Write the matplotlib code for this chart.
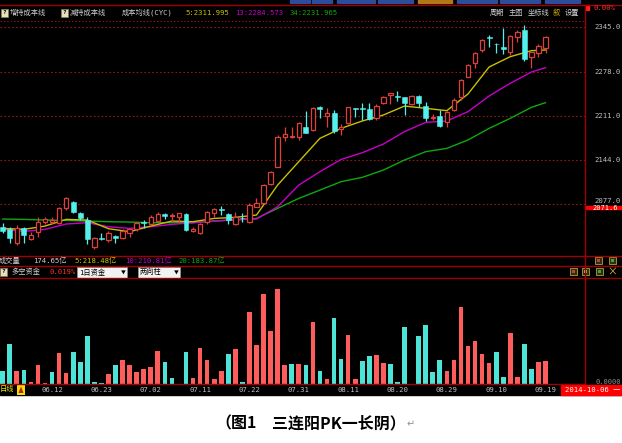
import matplotlib
matplotlib.use('Agg')
import matplotlib.pyplot as plt
from matplotlib.patches import Rectangle, Polygon
from matplotlib.transforms import blended_transform_factory as blend

# ---------------- data ----------------
opens = [2042.1, 2039.6, 2018.9, 2040.6, 2023.9, 2035.5, 2049.6, 2050.7, 2049.1, 2070.9,
         2080.4, 2064.3, 2053.2, 2012.8, 2026.4, 2022.9, 2029.5, 2025.4, 2033.0, 2039.1,
         2050.7, 2047.1, 2052.2, 2061.8, 2059.3, 2058.2, 2061.8, 2037.0, 2033.0, 2050.7,
         2064.3, 2069.9, 2062.3, 2047.1, 2056.2, 2050.7, 2073.4, 2079.4, 2107.7, 2134.0,
         2179.4, 2178.4, 2179.4, 2193.5, 2189.5, 2224.8, 2211.2, 2215.7, 2190.5, 2199.6,
         2222.3, 2223.3, 2220.8, 2207.2, 2229.9, 2242.0, 2241.0, 2238.9, 2228.9, 2240.9,
         2225.8, 2207.2, 2210.7, 2202.1, 2219.8, 2240.0, 2270.2, 2290.4, 2310.6, 2330.0,
         2320.2, 2315.7, 2308.1, 2329.8, 2340.9, 2299.5, 2305.6, 2313.1]
highs = [2048.1, 2043.1, 2045.6, 2043.1, 2035.5, 2058.2, 2057.2, 2057.2, 2073.4, 2088.5,
         2081.4, 2065.8, 2058.2, 2028.0, 2033.0, 2036.5, 2030.5, 2039.1, 2040.6, 2050.7,
         2053.2, 2060.8, 2065.8, 2064.3, 2064.3, 2064.3, 2063.3, 2043.1, 2049.1, 2067.3,
         2070.9, 2074.4, 2063.3, 2065.8, 2063.3, 2078.4, 2087.0, 2107.7, 2127.9, 2181.9,
         2193.5, 2193.5, 2202.1, 2218.8, 2223.8, 2225.8, 2222.3, 2219.8, 2198.5, 2224.8,
         2222.8, 2229.9, 2229.9, 2228.9, 2240.9, 2245.5, 2249.0, 2239.9, 2242.5, 2242.5,
         2232.4, 2213.7, 2219.8, 2218.8, 2237.4, 2266.2, 2289.4, 2308.1, 2327.2, 2333.3,
         2321.7, 2343.4, 2333.3, 2340.9, 2348.5, 2308.1, 2319.7, 2331.8]
lows = [2033.0, 2018.9, 2015.3, 2018.9, 2022.9, 2028.0, 2047.1, 2047.1, 2047.1, 2068.4,
        2064.3, 2053.2, 2016.8, 2008.8, 2022.9, 2020.4, 2018.9, 2023.9, 2027.0, 2037.0,
        2040.6, 2045.6, 2050.7, 2054.2, 2050.7, 2049.1, 2037.0, 2035.5, 2032.0, 2047.1,
        2058.2, 2060.8, 2047.1, 2045.6, 2050.7, 2049.1, 2072.4, 2078.4, 2106.2, 2132.9,
        2173.3, 2176.9, 2174.3, 2184.4, 2188.5, 2207.2, 2193.5, 2185.4, 2181.9, 2198.5,
        2209.7, 2204.6, 2204.6, 2204.6, 2228.9, 2228.9, 2233.9, 2212.2, 2227.3, 2223.8,
        2203.6, 2204.6, 2194.5, 2194.5, 2218.8, 2234.9, 2269.2, 2282.8, 2308.1, 2315.7,
        2305.6, 2304.5, 2303.0, 2323.2, 2294.5, 2282.8, 2299.5, 2305.6]
closes = [2037.0, 2025.4, 2040.6, 2030.5, 2030.5, 2050.7, 2054.2, 2053.2, 2070.9, 2086.0,
          2065.8, 2056.7, 2023.9, 2026.4, 2023.9, 2033.0, 2026.4, 2037.0, 2039.1, 2049.1,
          2049.1, 2058.2, 2062.3, 2059.3, 2060.8, 2063.3, 2038.1, 2039.1, 2047.1, 2065.8,
          2069.4, 2068.4, 2053.2, 2058.2, 2055.7, 2075.9, 2079.4, 2106.2, 2126.4, 2178.4,
          2182.9, 2180.4, 2200.6, 2185.5, 2222.3, 2220.8, 2215.7, 2188.5, 2194.5, 2223.8,
          2221.3, 2221.3, 2205.6, 2225.8, 2238.9, 2245.0, 2240.0, 2230.9, 2240.9, 2229.9,
          2207.2, 2209.7, 2195.5, 2217.2, 2234.9, 2265.2, 2287.9, 2306.6, 2325.7, 2329.3,
          2319.2, 2311.6, 2331.8, 2338.4, 2296.5, 2308.1, 2316.6, 2329.8]

ma_idx = [1, 4, 7, 10, 13, 16, 19, 22, 25, 28, 31, 34, 37, 40, 43, 46, 49, 52, 55, 58,
          61, 64, 67, 70, 73, 76, 78]
cyc5 = [2040.6, 2039.1, 2044.1, 2054.2, 2053.2, 2040.1, 2035.6, 2044.1, 2051.7, 2050.7,
        2055.7, 2057.3, 2060.8, 2106.2, 2141.6, 2176.9, 2192.0, 2203.1, 2212.2, 2225.8,
        2222.3, 2218.8, 2244.0, 2284.9, 2300.5, 2309.6, 2310.6]
cyc13 = [2039.1, 2036.1, 2039.1, 2047.2, 2049.2, 2043.1, 2040.6, 2043.1, 2046.7, 2049.2,
         2051.7, 2054.2, 2054.7, 2073.4, 2106.2, 2126.4, 2145.0, 2155.1, 2168.3, 2187.0,
         2201.1, 2203.1, 2217.3, 2241.0, 2260.2, 2277.3, 2283.9]
cyc34 = [2054.7, 2054.2, 2053.2, 2052.7, 2051.7, 2050.7, 2050.2, 2049.2, 2049.2, 2049.2,
         2051.7, 2053.2, 2055.7, 2070.9, 2086.0, 2098.6, 2111.3, 2117.8, 2128.9, 2144.1,
         2156.7, 2161.7, 2174.4, 2192.0, 2207.2, 2223.8, 2230.9]

flow = [13, 40, 13, 14, 2, 19, 1, 12, 31, 11, 32, 22, 48, 2, 1, 10, 19, 24, 19, 12, 15, 17,
        33, 22, 6, 0.5, 32, 6, 36, 24, 5, 13, 30, 35, 2, 72, 39, 90, 53, 95, 19, 20,
        20, 19, 62, 13, 5, 66, 25, 49, 5, 23, 28, 29, 21, 20, 2, 57, 0, 48, 59, 12, 24,
        13, 24, 77, 38, 43, 30, 21, 32, 7, 51, 7, 40, 15, 22, 23]
flow_dir = ("ccrcrrrcrrcccccrcrrrrr" "rccccrrrrrcrcrrrrrrc"
            "rcrcrccrrccrrcccccccc" "rrrrrrrccrrccrr")

date_idx = [8, 15, 22, 29, 36, 43, 50, 57, 64, 71, 78]
date_labels = ['06.12', '06.23', '07.02', '07.11', '07.22', '07.31',
               '08.11', '08.20', '08.29', '09.10', '09.19']
price_ticks = [2345.0, 2278.0, 2211.0, 2144.0, 2077.0]
marker_price = 2071.6

# ---------------- style ----------------
UP = '#dc403c'
DOWN = '#54f0ec'
BAR_UP = '#ff5c5c'
BAR_DN = '#4de3d6'
YEL, MAG, GRN = '#c8c000', '#c800c8', '#10a810'
DRED = '#a00000'
GRID = '#901818'
TXT = '#d0d0d0'
CJK = ['Noto Sans CJK SC', 'DejaVu Sans']
MONO = ['DejaVu Sans Mono', 'Noto Sans CJK SC']

W, H = 622, 443
fig = plt.figure(figsize=(W / 100, H / 100), dpi=100)
fig.patch.set_facecolor('white')


def px_axes(x0, y0, x1, y1, z):
    return fig.add_axes([x0 / W, 1 - y1 / H, (x1 - x0) / W, (y1 - y0) / H], zorder=z)


bg = px_axes(0, 0, W, H, 0)
bg.set_xlim(0, W); bg.set_ylim(H, 0); bg.axis('off')
bg.add_patch(Rectangle((0, 0), W, 395, color='black'))

X0, X1 = 0.617, 83.6
# price panel
pa = px_axes(0, 21, 585, 255, 2)
pa.set_facecolor('none'); pa.axis('off')
pa.set_xlim(X0, X1); pa.set_ylim(2000.3, 2354.5)
for p in price_ticks:
    pa.axhline(p, color=GRID, lw=0.8, ls=(0, (1.5, 2.0)), zorder=1)

idx = list(range(1, len(opens) + 1))
for i, o, h, l, c in zip(idx, opens, highs, lows, closes):
    if c >= o:
        pa.vlines(i, max(o, c), h, color=UP, lw=0.9, zorder=3)
        pa.vlines(i, l, min(o, c), color=UP, lw=0.9, zorder=3)
        pa.bar(i, max(c - o, 0.3), bottom=o, width=0.62, facecolor='black',
               edgecolor=UP, linewidth=0.9, zorder=4)
    else:
        pa.vlines(i, l, h, color=DOWN, lw=0.9, zorder=3)
        pa.bar(i, max(o - c, 0.6), bottom=c, width=0.7, facecolor=DOWN,
               edgecolor=DOWN, linewidth=0.4, zorder=4)

pa.plot(ma_idx, cyc34, color=GRN, lw=1.0, zorder=2)
pa.plot(ma_idx, cyc13, color=MAG, lw=1.0, zorder=2)
pa.plot(ma_idx, cyc5, color=YEL, lw=1.0, zorder=2)

# flow bars panel
ba = px_axes(0, 278, 585, 384, 2)
ba.set_facecolor('none'); ba.axis('off')
ba.set_xlim(X0, X1); ba.set_ylim(0, 106)
ba.bar(idx, flow, width=0.66,
       color=[BAR_UP if d == 'r' else BAR_DN for d in flow_dir], zorder=3)

# overlay for frame and texts (pixel coordinates)
ov = px_axes(0, 0, W, H, 5)
ov.set_facecolor('none'); ov.axis('off')
ov.set_xlim(0, W); ov.set_ylim(H, 0)

# top tab strip
for a, b, col in [(290, 310, '#2c4c9c'), (312, 332, '#2c4c9c'), (337, 375, '#2c4c9c'),
                  (378, 413, '#2c4c9c'), (418, 452, '#b07818'), (457, 497, '#2c4c9c'),
                  (500, 540, '#2c4c9c'), (545, 580, '#2c4c9c')]:
    ov.add_patch(Rectangle((a, 0), b - a, 3, color=col))
ov.plot([0, W], [4.5, 4.5], color=DRED, lw=1.0)
ov.plot([0, 585], [21, 21], color=GRID, lw=0.7, ls=(0, (1.5, 2.0)))
for y in (255.5, 265.5, 278):
    ov.plot([0, W], [y, y], color=DRED, lw=1.0)
ov.plot([0, 585], [384, 384], color=DRED, lw=1.0)
ov.plot([585, 585], [4.5, 384], color=DRED, lw=1.0)
ov.add_patch(Rectangle((586, 5), 3, 5, color='#ff2020'))
ov.text(593, 7.5, '0.00%', color='#ff3030', fontsize=5.2, family=MONO, va='center')


def qicon(x, y):
    ov.add_patch(Rectangle((x, y - 4), 7, 8, fc='#e8e0b8', ec='#808060', lw=0.5))
    ov.text(x + 3.5, y, '?', color='black', fontsize=4.5, ha='center', va='center',
            family=MONO, weight='bold')


# header row
hy = 12.5
qicon(1, hy)
ov.text(10, hy, '增持成本线', color=TXT, fontsize=5.2, family=CJK, va='center')
qicon(61, hy)
ov.text(70, hy, '减持成本线', color=TXT, fontsize=5.2, family=CJK, va='center')
ov.text(122, hy, '成本均线(CYC)', color=TXT, fontsize=5.2, family=MONO, va='center')
ov.text(185, hy, '5:2311.995', color=YEL, fontsize=5.2, family=MONO, va='center')
ov.text(235, hy, '13:2284.573', color=MAG, fontsize=5.2, family=MONO, va='center')
ov.text(290, hy, '34:2231.965', color=GRN, fontsize=5.2, family=MONO, va='center')
ov.text(490, hy, '周期', color=TXT, fontsize=5.2, family=CJK, va='center')
ov.text(509, hy, '主图', color=TXT, fontsize=5.2, family=CJK, va='center')
ov.text(528, hy, '坐标线', color=TXT, fontsize=5.2, family=CJK, va='center')
ov.text(553, hy, '叙', color='#c8b000', fontsize=5.2, family=CJK, va='center')
ov.text(565, hy, '设置', color=TXT, fontsize=5.2, family=CJK, va='center')

# price labels
ty = blend(ov.transData, pa.transData)
for p in price_ticks[:-1]:
    ov.text(594, p, f'{p:.1f}', transform=ty, color='#c0c0c0', fontsize=5.2,
            family=MONO, va='center')
ov.text(594, price_ticks[-1] + 0.8, f'{price_ticks[-1]:.1f}', transform=ty,
        color='#c0c0c0', fontsize=5.2, family=MONO, va='bottom')
ov.add_patch(Rectangle((585.5, marker_price - 2.0), 36.5, 4.6, transform=ty,
                       color='#ff0000', zorder=6))
ov.text(592, marker_price + 0.3, f'{marker_price:.1f}', transform=ty, color='white',
        fontsize=5.0, family=MONO, va='center', zorder=7)

# volume header row
vy = 260.5
ov.text(-1, vy, '成交量', color=TXT, fontsize=5.2, family=CJK, va='center')
ov.text(33, vy, '174.65亿', color=TXT, fontsize=5.2, family=MONO, va='center')
ov.text(74, vy, '5:218.48亿', color=YEL, fontsize=5.2, family=MONO, va='center')
ov.text(125, vy, '10:210.81亿', color=MAG, fontsize=5.2, family=MONO, va='center')
ov.text(178, vy, '20:183.87亿', color=GRN, fontsize=5.2, family=MONO, va='center')


def sicon(x, y, inner='#c04040'):
    ov.add_patch(Rectangle((x, y - 3.5), 7, 7, fc='#303010', ec='#b0a040', lw=0.6))
    ov.add_patch(Rectangle((x + 2, y - 1.5), 3, 3, fc=inner, ec='none'))


sicon(595, 260.5)
sicon(609, 260.5, '#40a040')

# 多空资金 row
ry = 271.8
qicon(0, ry)
ov.text(11, ry, '多空资金', color=TXT, fontsize=5.2, family=CJK, va='center')
ov.text(49, ry, '0.019%', color='#ff3030', fontsize=5.2, family=MONO, va='center')
ov.add_patch(Rectangle((77, 266.5), 50, 11, fc='#f2f2f2', ec='#909090', lw=0.6))
ov.text(79, ry, '1日资金', color='black', fontsize=5.2, family=MONO, va='center')
ov.text(121, ry, '▼', color='black', fontsize=3.5, family=CJK, va='center')
ov.add_patch(Rectangle((138, 266.5), 42, 11, fc='#f2f2f2', ec='#909090', lw=0.6))
ov.text(140, ry, '两向柱', color='black', fontsize=5.2, family=CJK, va='center')
ov.text(174, ry, '▼', color='black', fontsize=3.5, family=CJK, va='center')
sicon(570, ry)
sicon(582, ry, '#c0c040')
sicon(596, ry, '#40a040')
ov.text(612, ry, '×', color='#d8c040', fontsize=7, family=CJK, ha='center', va='center')

# bottom date row
dy = 389.5
ov.text(0, dy, '日线', color='#e8e800', fontsize=5.2, family=CJK, va='center')
ov.add_patch(Rectangle((17, 384.5), 8, 10, fc='#f0e000', ec='none'))
ov.add_patch(Polygon([[18.5, 393], [23.5, 393], [21, 386.5]], closed=True,
                     fc='#c02020', ec='none'))
tx = blend(ba.transData, ov.transData)
for i, lab in zip(date_idx, date_labels):
    ov.text(i, dy, lab, transform=tx, color='#c0c0c0', fontsize=5.2, family=MONO,
            ha='center', va='center')
ov.text(596, 381.5, '0.0000', color='#909090', fontsize=5.0, family=MONO, va='center')
ov.add_patch(Rectangle((561, 384.5), 61, 10.5, color='#ff0000'))
ov.text(565, dy, '2014-10-06 一', color='white', fontsize=5.2, family=MONO, va='center')

# caption
ov.text(215, 423, '（图1', color='black', fontsize=11.5, family=CJK, weight='bold',
        va='center')
ov.text(272, 423, '三连阳PK一长阴）', color='black', fontsize=11.5, family=CJK,
        weight='bold', va='center')
ov.text(407, 424, '↵', color='#909090', fontsize=7, family=CJK, va='center')

fig.savefig('out.png', dpi=100, facecolor='white')
